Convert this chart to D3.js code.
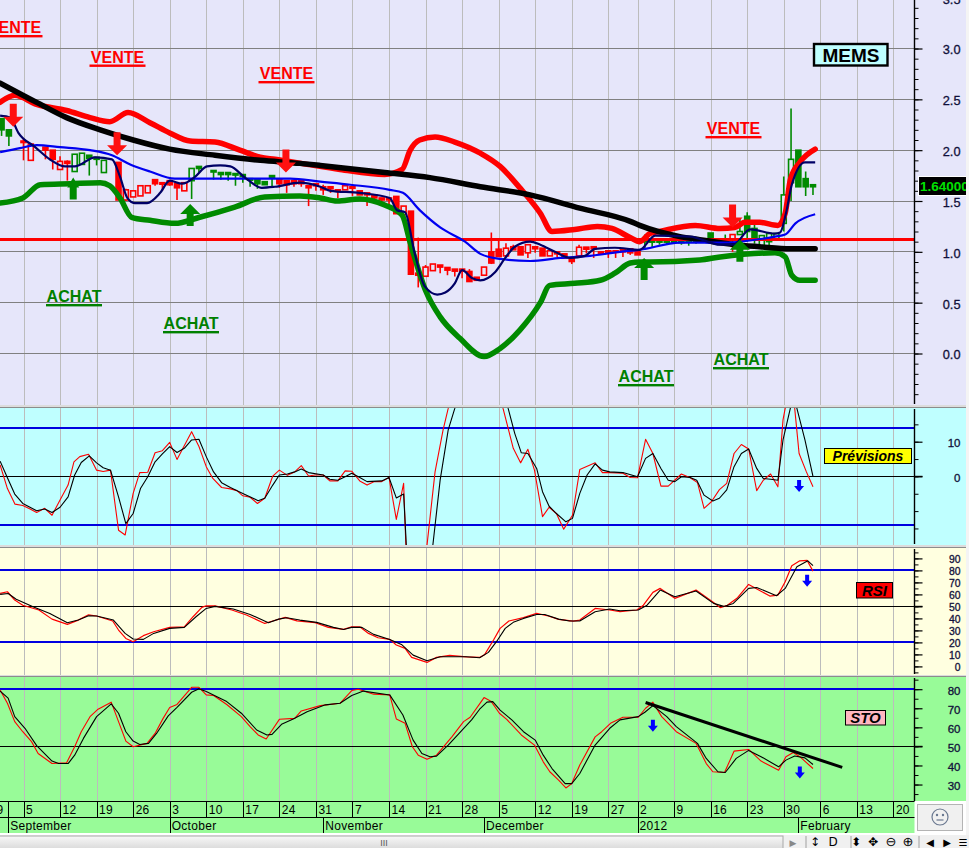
<!DOCTYPE html>
<html>
<head>
<meta charset="utf-8">
<title>MEMS</title>
<script src="https://cdn.jsdelivr.net/npm/d3@7/dist/d3.min.js"></script>
<style>
html,body{margin:0;padding:0;background:#f0f0f0;overflow:hidden}
svg{display:block}
text{font-family:"Liberation Sans",Arial,sans-serif}
</style>
</head>
<body>
<script>
// ---- DATA: all pairs are [trading-day index, value]; day 0 = 5 September 2011 ----
const weekTicks = [[-5,"29"],[0,"5"],[5,"12"],[10,"19"],[15,"26"],[20,"3"],[25,"10"],[30,"17"],[35,"24"],[40,"31"],[45,"7"],[50,"14"],[55,"21"],[60,"28"],[65,"5"],[70,"12"],[75,"19"],[80,"27"],[84,"2"],[89,"9"],[94,"16"],[99,"23"],[104,"30"],[109,"6"],[114,"13"],[119,"20"]];
const months = [[-2.1,"September"],[20,"October"],[41,"November"],[63,"December"],[84,"2012"],[106,"February"]];
const priceTicks = [0,0.5,1,1.5,2,2.5,3,3.5];
const prevTicks = [0,10];
const rsiTicks = [0,10,20,30,40,50,60,70,80,90];
const stoTicks = [30,40,50,60,70,80];

const upperBand = [[-3.2,2.47],[-1.2,2.54],[1.8,2.45],[5.9,2.39],[9.1,2.32],[11.8,2.28],[14.3,2.37],[17.3,2.27],[20,2.17],[22.8,2.09],[26.2,2.08],[29.6,2.0],[32.4,1.93],[34.4,1.91],[38,1.87],[43.3,1.81],[49.4,1.76],[51.8,1.81],[52.9,2.0],[54.2,2.10],[56.3,2.13],[59,2.08],[62.5,1.97],[65.2,1.84],[67.9,1.63],[70.7,1.38],[72.3,1.20],[75.4,1.22],[78.5,1.25],[80.5,1.23],[83,1.14],[84.3,1.10],[85.7,1.18],[87,1.20],[91.9,1.26],[95.3,1.23],[97.3,1.24],[98.7,1.29],[100.7,1.29],[103.2,1.26],[104.2,1.38],[104.9,1.71],[106.2,1.88],[108.3,2.01]];
const lowerBand = [[-3.2,1.48],[-0.1,1.53],[2.3,1.66],[6.4,1.67],[10.5,1.68],[11.8,1.65],[13.2,1.53],[14.8,1.34],[17.3,1.31],[20.7,1.28],[24.1,1.34],[28.9,1.44],[33,1.54],[37.8,1.55],[40.6,1.53],[42.9,1.50],[46,1.52],[49.4,1.46],[51.8,1.36],[52.9,1.09],[55,0.62],[57,0.36],[59.7,0.15],[63,-0.03],[65.2,0.05],[67.9,0.23],[70.7,0.50],[72,0.67],[75.4,0.69],[78.9,0.72],[80.9,0.79],[83,0.89],[84.3,0.90],[85.7,0.90],[92.5,0.92],[95.3,0.95],[102.8,0.99],[104.2,0.95],[105.1,0.77],[106.2,0.72],[108.3,0.72]];
const longMA = [[-3.2,2.66],[1.8,2.47],[5.9,2.32],[10.5,2.20],[15,2.10],[20,2.01],[26.2,1.95],[32.4,1.90],[37.8,1.87],[40.6,1.85],[49.4,1.78],[55.6,1.73],[62.5,1.64],[69.3,1.56],[76.1,1.43],[83,1.30],[84.3,1.26],[89.8,1.15],[92.5,1.12],[97.3,1.07],[100.7,1.05],[104.9,1.03],[108.3,1.03]];
const midMA = [[-3.2,1.98],[-0.5,2.02],[1.8,2.05],[5,2.03],[9.1,2.0],[12.1,1.95],[14.6,1.86],[17.3,1.79],[20.7,1.72],[24.1,1.72],[29.6,1.72],[36.5,1.72],[40.6,1.69],[44.7,1.66],[50.1,1.61],[51.9,1.58],[54.2,1.41],[57,1.24],[60.4,1.10],[62.5,0.98],[65.2,0.93],[69.3,0.91],[73.4,0.94],[77.5,0.96],[81.6,1.0],[84.3,1.02],[89.8,1.09],[95.3,1.09],[102.8,1.15],[104.2,1.17],[105.6,1.28],[108.3,1.37]];
const fastMA = [[-3.2,2.34],[-1.8,2.32],[-0.7,2.17],[1.6,2.03],[3.6,1.91],[5.7,1.84],[7,1.84],[9.8,1.93],[12.1,1.91],[13.2,1.74],[14.2,1.53],[15.2,1.48],[16.9,1.48],[18.7,1.58],[20,1.70],[21.7,1.67],[23.5,1.74],[25.1,1.84],[26.9,1.85],[28.3,1.84],[30.3,1.73],[32.6,1.63],[34.4,1.64],[37.8,1.68],[40.6,1.64],[42,1.60],[46,1.58],[50.1,1.53],[51.1,1.41],[52.2,1.39],[53.5,0.99],[54.9,0.66],[56.6,0.58],[57.7,0.60],[59,0.69],[60,0.82],[61.4,0.74],[62.5,0.72],[64.5,0.80],[65.9,0.94],[67.2,1.05],[69.3,1.10],[70.7,1.07],[72.7,1.0],[74.8,0.94],[76.8,0.96],[78.2,1.03],[80.9,1.04],[84.3,1.02],[86.4,1.16],[91.2,1.15],[95.3,1.07],[97.1,1.07],[99.4,1.22],[102.8,1.18],[103.5,1.19],[104.4,1.41],[105.1,1.66],[106.9,1.88],[108.3,1.88]];
const supportLevel = 1.123;

// candles: [day, open, high, low, close]
const redCandles = [[0,2.09,2.12,1.90,2.08],[1,1.90,2.06,1.90,2.06],[3,2.03,2.03,1.91,2.0],[4,2.0,2.0,1.81,1.91],[5,1.81,1.94,1.81,1.89],[6,1.89,1.90,1.70,1.87],[13,1.88,1.88,1.51,1.51],[14,1.51,1.62,1.50,1.61],[15,1.54,1.60,1.54,1.60],[16,1.55,1.65,1.55,1.65],[17,1.58,1.65,1.58,1.65],[18,1.71,1.71,1.65,1.67],[19,1.68,1.68,1.60,1.67],[20,1.70,1.70,1.65,1.66],[21,1.67,1.67,1.51,1.63],[22,1.60,1.68,1.60,1.68],[35,1.71,1.71,1.63,1.67],[36,1.70,1.70,1.58,1.66],[37,1.70,1.70,1.64,1.67],[38,1.70,1.70,1.64,1.67],[39,1.65,1.65,1.45,1.63],[40,1.67,1.67,1.60,1.65],[41,1.64,1.66,1.56,1.61],[42,1.64,1.64,1.58,1.62],[43,1.61,1.61,1.53,1.60],[44,1.61,1.65,1.61,1.65],[45,1.64,1.64,1.55,1.63],[46,1.60,1.60,1.56,1.56],[47,1.58,1.58,1.45,1.56],[48,1.56,1.56,1.50,1.53],[49,1.53,1.53,1.46,1.51],[50,1.53,1.53,1.45,1.51],[51,1.545,1.545,1.375,1.375],[52,1.365,1.45,1.365,1.45],[53,1.40,1.40,0.78,0.78],[54,0.79,1.14,0.65,0.77],[55,0.76,0.87,0.76,0.85],[56,0.815,0.88,0.815,0.88],[57,0.87,0.87,0.79,0.85],[58,0.846,0.846,0.77,0.82],[59,0.83,0.83,0.757,0.81],[60,0.83,0.83,0.74,0.81],[61,0.807,0.83,0.708,0.708],[62,0.75,0.75,0.72,0.72],[63,0.77,0.85,0.77,0.85],[64,1.0,1.19,0.88,0.89],[65,1.026,1.12,0.95,0.954],[66,0.96,1.085,0.96,1.036],[67,1.05,1.07,1.02,1.02],[68,1.05,1.05,0.97,0.97],[69,0.99,1.07,0.94,1.07],[70,1.05,1.05,0.99,1.03],[71,1.036,1.036,0.96,0.96],[72,0.96,1.01,0.96,1.01],[73,1.0,1.0,0.95,0.98],[74,0.98,0.98,0.937,0.937],[75,0.937,0.937,0.88,0.905],[76,0.96,1.07,0.96,1.045],[77,1.046,1.046,0.985,1.026],[78,1.05,1.05,0.94,1.03],[79,1.0,1.0,0.97,0.99],[80,1.01,1.01,0.94,1.0],[81,1.01,1.01,0.94,1.0],[82,1.02,1.02,0.95,1.0],[83,1.03,1.03,0.97,0.99],[84,1.02,1.02,0.97,0.97],[97,1.12,1.17,1.0,1.17]];
const greenCandles = [[-3,2.31,2.31,2.14,2.20],[-2,2.20,2.20,2.04,2.14],[7,1.79,1.96,1.79,1.96],[8,1.86,1.97,1.86,1.97],[9,1.95,1.95,1.75,1.92],[10,1.93,1.93,1.85,1.91],[11,1.78,1.90,1.78,1.90],[23,1.70,1.82,1.52,1.82],[24,1.84,1.84,1.78,1.82],[26,1.80,1.80,1.71,1.79],[27,1.78,1.78,1.71,1.76],[28,1.78,1.78,1.70,1.76],[29,1.77,1.77,1.65,1.76],[30,1.76,1.76,1.68,1.74],[31,1.72,1.72,1.64,1.71],[32,1.71,1.71,1.62,1.67],[33,1.69,1.69,1.66,1.66],[34,1.75,1.75,1.63,1.73],[85,1.125,1.17,1.02,1.10],[86,1.11,1.15,1.04,1.10],[87,1.11,1.13,1.07,1.10],[88,1.11,1.12,1.07,1.10],[89,1.11,1.12,1.08,1.10],[90,1.11,1.13,1.07,1.09],[91,1.12,1.13,1.06,1.10],[92,1.12,1.14,1.08,1.11],[93,1.11,1.12,1.09,1.10],[94,1.185,1.185,1.12,1.12],[95,1.11,1.12,1.08,1.10],[96,1.12,1.17,1.09,1.10],[98,1.17,1.33,1.17,1.20],[99,1.35,1.39,1.10,1.20],[100,1.23,1.27,1.08,1.135],[101,1.05,1.16,1.05,1.16],[102,1.10,1.18,1.02,1.18],[103,1.12,1.18,1.12,1.18],[104,1.28,1.74,1.20,1.56],[105,1.68,2.41,1.50,1.91],[106,2.0,2.0,1.64,1.64],[107,1.72,1.79,1.55,1.64],[108,1.66,1.66,1.56,1.64]];

const sellArrows = [[-1.4,2.23],[12.8,1.95],[35.9,1.78],[97,1.24]];
const buyArrows = [[6.8,1.73],[22.8,1.47],[84.9,0.94],[98,1.12]];

const prevRed = [[-3.2,3.3],[-2.2,-3.5],[-1.16,-8.0],[-0.1,-8.4],[0.9,-9.4],[1.8,-10.4],[2.9,-9.2],[3.9,-11.2],[5,-6.8],[6.1,-2.5],[6.9,4.2],[7.7,5.7],[8.9,6.4],[10,1.8],[10.9,1.4],[11.9,1.8],[13,-15.5],[13.9,-16.9],[15,-4.9],[15.9,1.1],[17,1.2],[18,6.8],[19,7.4],[20,9.8],[21,4.9],[23,12.9],[24,8.6],[25,2.8],[25.9,-0.6],[27.1,-3.2],[28.3,-3.6],[29.2,-4.1],[30,-5.6],[31,-6],[32,-7.8],[33,-6.3],[34.1,0.1],[35,1.8],[36.1,0.3],[37.1,1.3],[38,3.1],[39,0.1],[39.9,0.4],[41,0.4],[41.9,-1.3],[43,-1.3],[44,1.6],[44.9,1.5],[46,-1.3],[47,-2.5],[48,-1.5],[49,-1.5],[50,-0.3],[51,-12.4],[52,-2],[52.3,-19.3],[52.6,-26],[55,-26],[55.2,-19.8],[56.3,1.3],[57.4,13.4],[58.1,19.6],[59,30],[65,30],[65.6,19.6],[67,8.1],[68,3.9],[69,7.8],[69.9,1.8],[71,-11.6],[71.9,-8.9],[72.9,-10.7],[73.9,-15.2],[75.1,-11.2],[76.1,2],[78.2,3.9],[79.2,1.1],[80.2,1.1],[82,0.9],[83,-0.3],[84,-0.4],[85.1,10.7],[86.1,6.6],[87.2,-2.8],[88.2,-2.8],[90,0.7],[91.2,-0.4],[92.2,-1.8],[93.1,-9.2],[94.1,-7.3],[95.2,-3.8],[96.2,-2],[97.2,6.6],[98.2,9.2],[99.2,7.9],[100.3,-4.1],[101.2,-1.1],[102.2,0.7],[103.2,-3],[103.9,16.3],[104.2,19.6],[104.8,24],[105.2,24],[105.5,19.6],[106.1,6.6],[107.1,1.3],[108,-3]];
const prevBlack = [[-3.2,4.4],[-2.2,-0.4],[-1.2,-5.1],[-0.1,-7.8],[1.8,-9.9],[2.9,-9.4],[3.9,-10.4],[5,-8.9],[6.1,-5.9],[7,0.4],[7.9,4],[9,5.9],[10,3.9],[10.9,2.5],[11.9,1.8],[13,-5.9],[14,-13.6],[15,-10.7],[16,-3.5],[17,-0.1],[18,4.2],[19,6.5],[20,8.6],[21,6.9],[22,8.1],[23,10.5],[24,10.7],[25,5.7],[26,1.3],[27.1,-1.8],[28.3,-3.2],[30,-4.9],[32.1,-7],[33,-6.3],[34.1,-2.5],[35,0.4],[36.1,0.7],[37.1,1.3],[38,2.1],[39,1.1],[41,0.4],[41.9,-0.8],[43,-1.1],[44,-0.1],[44.9,0.9],[46,-0.3],[47,-1.5],[49,-1.3],[50,-0.3],[51,-6.2],[52,-5.1],[52.3,-17],[52.5,-26],[55.8,-26],[56,-19.8],[57,-1],[58.1,13.4],[59,19.6],[60,30],[65.6,30],[66.3,19.6],[67.2,12.4],[68.1,6.8],[69,6.6],[70.2,2.3],[71,-4.4],[71.9,-8.6],[72.9,-10.7],[74.2,-13.1],[75.1,-12.1],[76.1,-4.9],[77.1,0.4],[78.2,3.6],[79.2,1.8],[80.2,1.3],[82,1.1],[84,-0.1],[85.1,5.2],[86.1,6.6],[87.2,2.3],[88.2,-1.1],[89.1,-1.5],[90,-0.1],[91.2,-0.3],[92.1,-1.1],[93.1,-5.4],[94.3,-7.1],[95.2,-6.3],[96.2,-3.9],[97.2,2.8],[98.2,6.6],[99.2,7.9],[100.3,2.3],[101.2,-0.6],[102.2,-0.8],[103.2,-1.1],[103.9,10.5],[104.9,19.6],[105.3,23],[105.8,19.6],[106.9,10.5],[108,0]];
const prevBands = [14,-14];
const prevMid = 0;
const prevSignal = [106.1,-4.5];

const rsiRed = [[-3.2,60.8],[-2.2,62.2],[-1.2,55.3],[-0.1,51],[2.1,47],[3.9,39.4],[6,35],[7.5,38.6],[8.9,43],[10,42],[12.2,37.8],[13,30.3],[14,23.3],[15,20.6],[16.4,25.6],[17.8,28.9],[20,32.5],[22,33],[23.2,41.4],[24.4,49.2],[25,50.5],[26.2,50.5],[28.5,47],[30.5,42.8],[33,35.8],[34.1,37.8],[35.8,40.8],[37.4,38],[39.9,36.4],[41.7,32.5],[43.8,30.8],[44.9,33],[46,33],[47.2,27.5],[48.5,23.9],[50.1,22.5],[51,17.8],[52.2,15],[53.1,7.5],[55.2,3.3],[56.5,7.5],[58.3,9.2],[60.6,8],[62.4,7.5],[63.1,10],[64.3,22],[65.2,31.7],[66.4,37.8],[68.4,40.6],[70.2,44.2],[71.8,42],[73.2,39.2],[75.2,37.8],[76.1,38.6],[78.2,48.3],[80.2,47],[81.6,45.6],[83.9,47],[84.8,51],[86.1,61.7],[87.1,65],[89.1,56.7],[92,63.6],[94.4,53.3],[95.3,49],[96.2,50.6],[97.6,56.7],[99.2,68.3],[102.1,58.6],[103.2,59.4],[104.2,70.6],[105.1,83.9],[106.2,88],[107.2,88.3],[108,79.4]];
const rsiBlack = [[-3.2,60],[-2.1,60.8],[-1,56],[1.3,49.7],[3.6,44],[6,36.4],[7.5,38.6],[8.9,42.2],[10,42],[12.3,38.6],[13.9,27.5],[15,22.8],[16.4,22.5],[17.8,27.5],[20,31.7],[22,32.5],[23.6,41.4],[25,48.3],[26.2,50],[28.7,47.8],[31,43.3],[33.5,36.4],[34.9,39.4],[36,40.6],[37.8,38.6],[40.1,36.7],[42.4,32.5],[43.8,30.8],[44.9,32.5],[46.3,32.5],[47.9,26.7],[50.1,22.5],[51.7,18.3],[53.3,9.4],[55.2,4.7],[57,8],[60.6,8],[62.4,7.2],[63.6,11.7],[64.7,20.6],[65.9,31.7],[67,36.7],[68.4,40],[70.2,43.3],[71.3,43.3],[73.2,39.4],[74.7,37.8],[76.1,37.8],[78.2,45.6],[80.2,47.8],[81.6,46.4],[84.1,47],[85.3,51],[87.1,63.6],[89.1,58],[92,62.8],[94.4,52.5],[95.8,50],[97.1,52.5],[99.2,65],[100.3,65.8],[103,58.9],[104.2,65],[105.8,83],[107.3,88],[108,83.9]];
const rsiBands = [80,20];
const rsiMid = 50;
const rsiSignal = [107.2,66.4];

const stoRed = [[-3.2,79.6],[-2.2,72.6],[-1.2,63],[-0.1,57.7],[1.1,52.5],[2,46.3],[3.9,41],[5.9,41.4],[7,49.8],[7.9,57.7],[9.1,65.6],[10.2,69.5],[12,73.2],[13,63],[14,52.8],[15,49.8],[16.9,51.6],[18,56.8],[19.1,64.7],[20,70.4],[21,72],[23,81],[24,81],[25,77],[26,76.7],[27.8,72],[29.8,65.6],[31,60.4],[32.1,56],[33.2,53.9],[35,64.2],[37.1,64.7],[38,68.6],[40.6,71.4],[43.3,72.6],[44.9,79.3],[45.8,80],[47.9,77.4],[50.1,77],[51,64.4],[52.2,62.1],[53.2,49.8],[54,45.4],[55.2,43.2],[56.5,45.4],[58.6,55],[60.2,63],[61.1,65.3],[62.4,72.3],[63,75.6],[64,73.5],[65.1,67.4],[66.1,64.2],[68.1,56],[69.9,50.7],[71.1,41.9],[72,36.7],[73.2,32.3],[74.2,28.2],[75,30.5],[76.1,40.2],[78.2,55],[79.1,57.7],[80.3,62.1],[82,65.3],[84.1,65.3],[85.1,70],[86.1,73.2],[87.3,65.6],[89.3,57.7],[92,51.6],[93.4,41],[94.3,36.7],[95.9,36.3],[97.2,47.5],[99.2,48.4],[100.9,42.3],[103.3,37.5],[104.3,44.6],[105.3,46.8],[106.2,44.6],[108,38.4]];
const stoBlack = [[-3.2,79],[-2.1,75.3],[-1.2,65.6],[0.2,59.5],[1.8,50.4],[3.9,42.3],[4.8,41],[6.1,41],[7,45.4],[8.2,54.2],[10,65.6],[12,72.3],[13,67.4],[14,57.7],[15,52.8],[15.9,51],[17.1,51.6],[18.2,56.8],[19.8,66],[21,70.5],[23,78.4],[24,80.2],[25,78.8],[27.8,73.5],[29.8,67.4],[31.9,58.6],[33.3,56],[34,56.3],[35.3,61.6],[36.9,64.4],[38.8,68.2],[41.3,71.8],[43.3,72.6],[44.9,76.7],[46.5,79],[50.1,77],[51.9,66.5],[53.3,53.3],[54.5,46.3],[55.6,44.6],[56.5,44.9],[58.1,50.7],[60,58.6],[61.3,63.9],[62.4,69.5],[63.4,73.2],[64.2,73.5],[65.2,69],[66.8,63.9],[68.4,57.7],[70,53.3],[71.1,45.4],[72.3,38.4],[74.1,30.5],[75,30.5],[76.1,35.8],[78.2,50.7],[80.2,59.5],[81.6,63.9],[84.1,65.6],[85,67.9],[86.1,71.4],[88,65.6],[89.3,60.4],[92.2,51.6],[93.4,43.7],[95,36.7],[96,36.3],[97.5,43.7],[99.2,47.9],[100.9,44.6],[103.3,39.3],[104.3,42.8],[105.5,45],[106.9,44],[108,40.5]];
const stoTrend = [[85.1,73],[112,39]];
const stoBands = [80];
const stoMid = 50;
const stoSignals = [[86.1,57.7],[106.2,33.2]];

// ---- LAYOUT ----
const W = 969, H = 848, axisX = 914.5, edge = 966;
const svg = d3.select("body").append("svg").attr("width", W).attr("height", H);
const x = d3.scaleLinear().domain([0, 100]).range([23.5, 754.5]);
const yPrice = d3.scaleLinear().domain([0, 3]).range([353.5, 48.5]);
const yPrev = d3.scaleLinear().domain([0, 10]).range([476.4, 441.7]);
const yRsi = d3.scaleLinear().domain([50, 80]).range([606.4, 570.4]);
const ySto = d3.scaleLinear().domain([50, 80]).range([746.4, 689.2]);

const panels = [
  {id:"price", top:0, bottom:405, bg:"#e6e6fa"},
  {id:"prev", top:408, bottom:545, bg:"#bfffff"},
  {id:"rsi", top:548, bottom:675, bg:"#ffffe0"},
  {id:"sto", top:677, bottom:801, bg:"#98fb98"}
];
svg.append("rect").attr("width", W).attr("height", H).attr("fill", "#f4f4f4");
svg.append("rect").attr("x",0).attr("width",edge).attr("y",0).attr("height",H).attr("fill","#ffffff");
const defs = svg.append("defs");
panels.forEach(p => {
  svg.append("rect").attr("x",0).attr("y",p.top).attr("width",edge).attr("height",p.bottom-p.top).attr("fill",p.bg);
  defs.append("clipPath").attr("id","clip-"+p.id).append("rect").attr("x",0).attr("y",p.top).attr("width",axisX).attr("height",p.bottom-p.top);
});
[[405,408],[545,548],[675,677]].forEach(([a,b]) => {
  svg.append("rect").attr("x",0).attr("y",a).attr("width",edge).attr("height",b-a).attr("fill","#dcdcdc");
  svg.append("line").attr("x1",0).attr("x2",edge).attr("y1",b-0.5).attr("y2",b-0.5).attr("stroke","#8c8c8c");
});
// vertical week grid
panels.forEach(p => {
  svg.append("g").selectAll("line").data(weekTicks.filter(d=>x(d[0])<axisX && x(d[0])>0)).join("line")
    .attr("x1",d=>Math.round(x(d[0]))+0.5).attr("x2",d=>Math.round(x(d[0]))+0.5)
    .attr("y1",p.top).attr("y2",p.bottom).attr("stroke","#bcbcbc").attr("stroke-width",1);
});

function hLine(g, y, val, color, w){
  const py = w % 2 === 0 ? Math.round(y(val)) : Math.floor(y(val)) + 0.5;
  g.append("line").attr("x1",0).attr("x2",axisX).attr("y1",py).attr("y2",py).attr("stroke",color).attr("stroke-width",w).attr("shape-rendering","crispEdges");
}
function series(g, y, data, color, w, cap, curve){
  const gen = d3.line().x(d=>x(d[0])).y(d=>y(d[1])).curve(curve||d3.curveLinear);
  g.append("path").datum(data).attr("d",gen).attr("fill","none").attr("stroke",color)
   .attr("stroke-width",w).attr("stroke-linejoin","round").attr("stroke-linecap",cap||"butt");
}

// ---- PRICE PANEL ----
const gp = svg.append("g").attr("clip-path","url(#clip-price)");
priceTicks.slice(0,7).forEach(v => hLine(gp, yPrice, v, "#808080", 1));

function candles(rows, color){
  const g = gp.append("g");
  g.selectAll("line").data(rows).join("line")
   .attr("x1",d=>x(d[0])).attr("x2",d=>x(d[0])).attr("y1",d=>yPrice(d[2])).attr("y2",d=>yPrice(d[3]))
   .attr("stroke",color).attr("stroke-width",1.6);
  g.selectAll("rect").data(rows).join("rect")
   .attr("x",d=>x(d[0])-2.5).attr("width",5)
   .attr("y",d=>yPrice(Math.max(d[1],d[4])))
   .attr("height",d=>Math.max(1.5,Math.abs(yPrice(d[1])-yPrice(d[4]))))
   .attr("fill",d=>d[4]>d[1]?"#e6e6fa":color)
   .attr("stroke",color).attr("stroke-width",1.6);
}
candles(redCandles,"#ff0000");
candles(greenCandles,"#008a00");
hLine(gp, yPrice, supportLevel, "#ff0000", 3);
const smooth = d3.curveMonotoneX;
series(gp, yPrice, lowerBand, "#008a00", 5.5, "round", smooth);
series(gp, yPrice, upperBand, "#ff0000", 5.5, "round", smooth);
series(gp, yPrice, longMA, "#000000", 5.5, "round", smooth);
series(gp, yPrice, midMA, "#0000f0", 2.2, "butt", smooth);
series(gp, yPrice, fastMA, "#000066", 2.2, "butt", smooth);

function blockArrow(g, px, py, dir, headW, headH, stemW, total, color){
  // dir=1 : points down, tip at (px,py); dir=-1 : points up
  const s = dir;
  const pts = [[px,py],[px+headW/2,py-s*headH],[px+stemW/2,py-s*headH],[px+stemW/2,py-s*total],
               [px-stemW/2,py-s*total],[px-stemW/2,py-s*headH],[px-headW/2,py-s*headH]];
  g.append("path").attr("d",d3.line()(pts)+"Z").attr("fill",color);
}
sellArrows.forEach(a => blockArrow(svg, x(a[0]), yPrice(a[1]), 1, 20, 10, 7, 23, "#ff1010"));
buyArrows.forEach((a,i) => blockArrow(svg, x(a[0]), yPrice(a[1]), -1, i===0?12:20, 10, 7, 22, "#008a00"));

// signal labels
function signal(txt, cx, base, color){
  svg.append("text").attr("x",cx).attr("y",base).attr("text-anchor","middle")
    .attr("font-size",16).attr("font-weight",700).attr("fill",color).text(txt);
  svg.append("rect").attr("x",cx-28).attr("y",base+2).attr("width",56).attr("height",2.4).attr("fill",color);
}
signal("VENTE",14.5,33,"#ff0000");
signal("VENTE",117.5,62.5,"#ff0000");
signal("VENTE",286.5,79,"#ff0000");
signal("VENTE",733.5,134,"#ff0000");
signal("ACHAT",74,302,"#008000");
signal("ACHAT",191,329,"#008000");
signal("ACHAT",646,382,"#008000");
signal("ACHAT",741,365,"#008000");

// ---- INDICATOR PANELS ----
const gPrev = svg.append("g").attr("clip-path","url(#clip-prev)");
prevBands.forEach(v => hLine(gPrev,yPrev,v,"#0000e0",2));
hLine(gPrev,yPrev,prevMid,"#000000",1);
series(gPrev,yPrev,prevRed,"#ff0000",1.1);
series(gPrev,yPrev,prevBlack,"#000000",1.1);

const gRsi = svg.append("g").attr("clip-path","url(#clip-rsi)");
rsiBands.forEach(v => hLine(gRsi,yRsi,v,"#0000e0",2));
hLine(gRsi,yRsi,rsiMid,"#000000",1);
series(gRsi,yRsi,rsiRed,"#ff0000",1.2);
series(gRsi,yRsi,rsiBlack,"#000000",1.1);

const gSto = svg.append("g").attr("clip-path","url(#clip-sto)");
stoBands.forEach(v => hLine(gSto,ySto,v,"#0000e0",2));
hLine(gSto,ySto,stoMid,"#000000",1);
series(gSto,ySto,stoRed,"#ff0000",1.1);
series(gSto,ySto,stoBlack,"#000000",1.1);
series(gSto,ySto,stoTrend,"#000000",3);

const small = (px,py) => blockArrow(svg,px,py,1,10,6,4,12,"#0000ff");
small(x(prevSignal[0]),yPrev(prevSignal[1]));
small(x(rsiSignal[0]),yRsi(rsiSignal[1]));
stoSignals.forEach(a => small(x(a[0]),ySto(a[1])));

// ---- RIGHT AXES ----
function rightAxis(y, top, bottom, step, majors, fmt, fs){
  const lo = y.invert(bottom), hi = y.invert(top);
  const minorVals = d3.range(Math.ceil(lo/step)*step, hi+1e-9, step);
  const g = svg.append("g").attr("transform",`translate(${axisX},0)`);
  g.call(d3.axisRight(y).tickValues(minorVals).tickSize(4).tickFormat(""));
  g.select(".domain").remove();
  g.selectAll("line").attr("stroke","#000");
  g.append("line").attr("x1",0).attr("x2",0).attr("y1",top).attr("y2",bottom).attr("stroke","#000").attr("stroke-width",1.4);
  const m = svg.append("g").attr("transform",`translate(${axisX},0)`);
  m.call(d3.axisRight(y).tickValues(majors).tickSize(8).tickPadding(0).tickFormat(fmt));
  m.select(".domain").remove();
  m.selectAll("line").attr("stroke","#000").attr("stroke-width",1.2);
  m.selectAll("text").attr("x",46).attr("dy",".42em").attr("text-anchor","end")
    .attr("font-size",fs).attr("font-family",'"Liberation Sans",Arial,sans-serif')
    .attr("fill","#10103a").attr("stroke","#10103a").attr("stroke-width",0.3);
}
rightAxis(yPrice,-2,404,0.1,priceTicks,d3.format(".1f"),12.8);
rightAxis(yPrev,409,544,5,prevTicks,d3.format("d"),11.5);
rightAxis(yRsi,549,674,5,rsiTicks,d3.format("d"),10.4);
rightAxis(ySto,678,801,5,stoTicks,d3.format("d"),11.5);
// centre-line extension on the right strip
[[yPrev,prevMid],[yRsi,rsiMid],[ySto,stoMid]].forEach(([y,v]) =>
  svg.append("line").attr("x1",axisX).attr("x2",axisX+8).attr("y1",y(v)).attr("y2",y(v)).attr("stroke","#000").attr("stroke-width",1.2));

// ---- BOXES ----
function box(x0,y0,w,h,fill,sw){
  svg.append("rect").attr("x",x0).attr("y",y0).attr("width",w).attr("height",h).attr("fill",fill).attr("stroke","#000").attr("stroke-width",sw);
}
box(814,44,73.5,21.5,"#bfffff",2.4);
svg.append("text").attr("x",851).attr("y",61.5).attr("text-anchor","middle").attr("font-size",19).attr("font-weight",700).attr("fill","#000").text("MEMS");

box(824.5,448.5,87,15,"#ffff00",1);
svg.append("text").attr("x",868).attr("y",461).attr("text-anchor","middle").attr("font-size",14).attr("font-weight",700).attr("font-style","italic").attr("fill","#000").text("Prévisions");
box(856.5,582.5,36,15.5,"#ff0000",1);
svg.append("text").attr("x",874.5).attr("y",595.5).attr("text-anchor","middle").attr("font-size",15).attr("font-weight",700).attr("font-style","italic").attr("fill","#000").text("RSI");
box(845.5,710.5,40,14.5,"#ffb6c1",1);
svg.append("text").attr("x",865.5).attr("y",723).attr("text-anchor","middle").attr("font-size",15).attr("font-weight",700).attr("font-style","italic").attr("fill","#000").text("STO");

svg.append("rect").attr("x",918).attr("y",176).attr("width",48).attr("height",20).attr("fill","#ffffff");
svg.append("rect").attr("x",919).attr("y",177).attr("width",47).attr("height",18).attr("fill","#000000");
defs.append("clipPath").attr("id","clip-tag").append("rect").attr("x",919).attr("y",177).attr("width",47).attr("height",18);
svg.append("text").attr("x",920).attr("y",191).attr("clip-path","url(#clip-tag)").attr("font-size",13.5).attr("font-weight",700).attr("fill","#00e000").text(d3.format(".5f")(greenCandles[greenCandles.length-1][4]));

// ---- DATE STRIP ----
svg.append("rect").attr("x",0).attr("y",801).attr("width",axisX).attr("height",32).attr("fill","#98fb98");
const strip = svg.append("g");
[801.5,817.5].forEach(yy => strip.append("line").attr("x1",0).attr("x2",axisX).attr("y1",yy).attr("y2",yy).attr("stroke","#000").attr("stroke-width",1));
const visibleWeeks = weekTicks.filter(d=>x(d[0])<axisX);
strip.selectAll("line.week").data(visibleWeeks).join("line").attr("class","week")
  .attr("x1",d=>Math.round(x(d[0]))+0.5).attr("x2",d=>Math.round(x(d[0]))+0.5).attr("y1",801).attr("y2",817).attr("stroke","#000");
strip.selectAll("text.week").data(visibleWeeks).join("text").attr("class","week")
  .attr("x",d=>x(d[0])+2.5).attr("y",814).attr("font-size",12).attr("letter-spacing",0.3).attr("fill","#000").text(d=>d[1]);
strip.selectAll("line.mon").data(months).join("line").attr("class","mon")
  .attr("x1",d=>Math.round(x(d[0]))+0.5).attr("x2",d=>Math.round(x(d[0]))+0.5).attr("y1",d=>d[0]<0?801:817).attr("y2",833).attr("stroke","#000");
strip.selectAll("text.mon").data(months).join("text").attr("class","mon")
  .attr("x",d=>x(d[0])+2).attr("y",830).attr("font-size",12).attr("letter-spacing",0.3).attr("fill","#000").text(d=>d[1]);

// smiley box
svg.append("rect").attr("x",917.5).attr("y",804.5).attr("width",45).attr("height",26).attr("fill","#f0f0f0").attr("stroke","#b4b4b4");
const sm = svg.append("g").attr("transform","translate(940,817)").attr("fill","none").attr("stroke","#6a7890").attr("stroke-width",1.2);
sm.append("circle").attr("r",8);
sm.append("circle").attr("cx",-3).attr("cy",-2).attr("r",0.6);
sm.append("circle").attr("cx",3).attr("cy",-2).attr("r",0.6);
sm.append("line").attr("x1",-3.5).attr("x2",3.5).attr("y1",3).attr("y2",3);

// ---- SCROLL / TOOLBAR ----
const grad = defs.append("linearGradient").attr("id","sb").attr("x1",0).attr("x2",0).attr("y1",0).attr("y2",1);
grad.append("stop").attr("offset",0).attr("stop-color","#f8f8f8");
grad.append("stop").attr("offset",1).attr("stop-color","#d8d8d8");
svg.append("rect").attr("x",0).attr("y",835).attr("width",W).attr("height",13).attr("fill","#f0f0f0");
svg.append("rect").attr("x",-2).attr("y",836).attr("width",785).attr("height",14).attr("fill","url(#sb)").attr("stroke","#a8a8a8");
svg.append("text").attr("x",384).attr("y",846).attr("text-anchor","middle").attr("font-size",9).attr("fill","#555").text("III");
const tools = [[793,"▶","#888",9],[815,"↕","#000",12],[833,"D","#000",12],[856,"⬍","#000",12],[873,"✥","#000",12],[891,"⊖","#000",13],[908,"⊕","#000",13],[930,"◀","#000",10],[947,"▶","#000",10],[963,"☰","#000",10]];
tools.forEach(t => svg.append("text").attr("x",t[0]).attr("y",846).attr("text-anchor","middle")
  .style("font-family","DejaVu Sans").attr("font-size",t[3]).attr("fill",t[2]).text(t[1]));
[806,851,919].forEach(px => svg.append("line").attr("x1",px).attr("x2",px).attr("y1",836).attr("y2",848).attr("stroke","#a0a0a0"));
</script>
</body>
</html>
